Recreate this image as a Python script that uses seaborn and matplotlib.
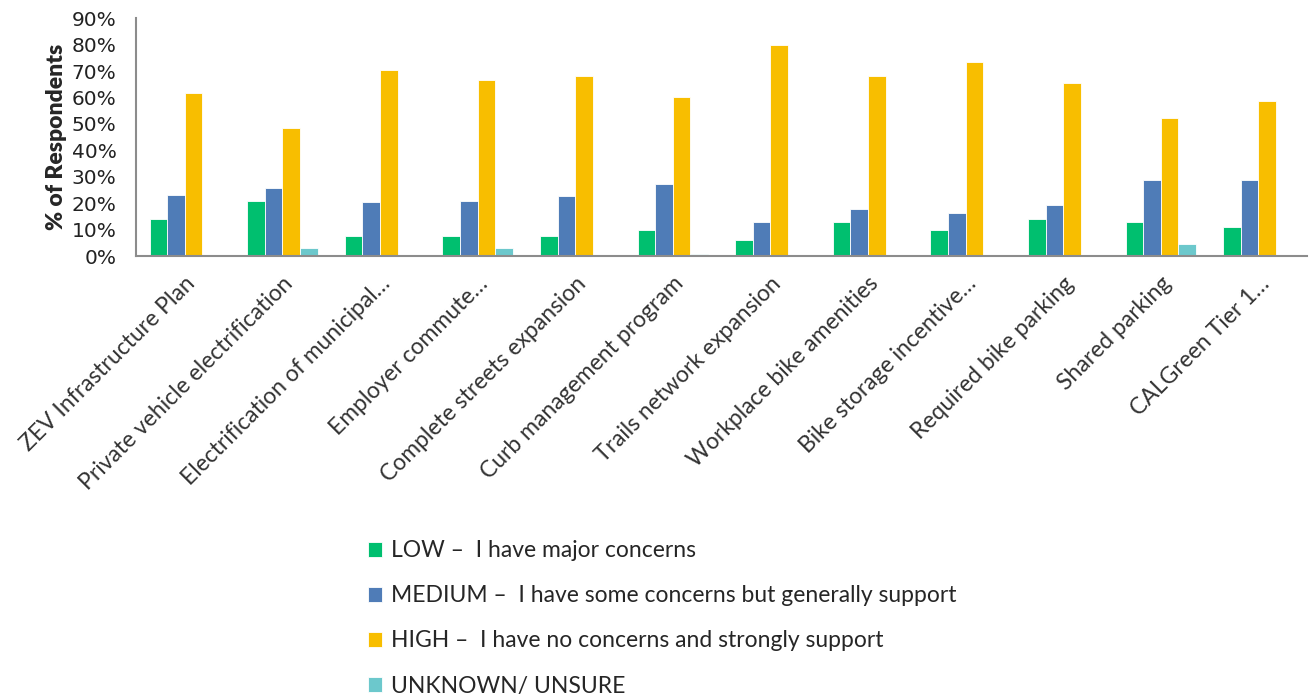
import pandas as pd
import matplotlib.pyplot as plt
import seaborn as sns
from matplotlib.ticker import PercentFormatter

# Survey results - % of respondents per support level
measures = ["ZEV Infrastructure Plan", "Private vehicle electrification",
            "Electrification of municipal\u2026", "Employer commute\u2026",
            "Complete streets expansion", "Curb management program",
            "Trails network expansion", "Workplace bike amenities",
            "Bike storage incentive\u2026", "Required bike parking",
            "Shared parking", "CALGreen Tier 1\u2026"]
low = [14.2, 20.8, 7.5, 7.5, 7.5, 9.8, 6.1, 12.8, 9.8, 14.2, 12.8, 11.1]
medium = [23.1, 25.7, 20.6, 20.8, 22.9, 27.3, 12.8, 17.8, 16.3, 19.3, 28.8, 28.8]
high = [61.6, 48.5, 70.3, 66.8, 68.2, 60.2, 80.0, 68.2, 73.4, 65.3, 52.2, 58.8]
unknown = [0, 3.2, 0, 3.2, 0, 1.0, 0, 0, 0, 0, 4.7, 0]

levels = ["LOW \u2013  I have major concerns",
          "MEDIUM \u2013  I have some concerns but generally support",
          "HIGH \u2013  I have no concerns and strongly support",
          "UNKNOWN/ UNSURE"]
colors = ["#00BF6F", "#4F7CB7", "#F8BE00", "#6CC8CC"]

df = pd.DataFrame({"measure": measures, levels[0]: low, levels[1]: medium,
                   levels[2]: high, levels[3]: unknown})
long = df.melt(id_vars="measure", var_name="level", value_name="pct")

sns.set_style("white")
plt.rcParams['font.family'] = ['Lato', 'DejaVu Sans']

fig = plt.figure(figsize=(13.1, 6.98), dpi=100)
ax = fig.add_axes([0.1038, 0.633, 0.894, 0.341])

sns.barplot(data=long, x="measure", y="pct", hue="level", order=measures,
            hue_order=levels, palette=colors, saturation=1, width=0.72,
            edgecolor="white", linewidth=0.6, ax=ax, legend=True)

ax.set_ylim(0, 90)
ax.set_xlim(-0.5, len(measures) - 0.5)
ax.set_yticks(range(0, 91, 10))
ax.yaxis.set_major_formatter(PercentFormatter(decimals=0))
for t in ax.get_yticklabels():
    t.set_fontfamily("DejaVu Sans")
    t.set_fontsize(14.5)
    t.set_color("#222222")
ax.set_ylabel("% of Respondents", fontsize=16.5, fontweight="heavy", labelpad=3)
ax.set_xlabel("")

# category ticks between groups, labels rotated
ax.set_xticks([i - 0.5 for i in range(len(measures) + 1)], minor=True)
ax.tick_params(axis="x", which="minor", length=7, width=1.3, color="#8c8c8c", direction="out")
ax.tick_params(axis="x", which="major", length=0, pad=12)
ax.tick_params(axis="y", which="major", length=6, width=1.3, color="#8c8c8c", direction="out", pad=8)
ax.set_xticks(range(len(measures)))
ax.set_xticklabels(measures, rotation=45, ha="right", rotation_mode="anchor",
                   fontsize=16.5, color="#333333")

for s in ["top", "right"]:
    ax.spines[s].set_visible(False)
for s in ["left", "bottom"]:
    ax.spines[s].set_color("#8c8c8c")
    ax.spines[s].set_linewidth(1.5)

handles, labels = ax.get_legend_handles_labels()
ax.get_legend().remove()
fig.legend(handles, labels, loc="upper left", bbox_to_anchor=(0.274, 0.239),
           frameon=False, fontsize=16.5, handlelength=0.6, handleheight=0.6,
           handletextpad=0.4, labelspacing=1.05, borderaxespad=0)

fig.savefig("out.png", dpi=100)
